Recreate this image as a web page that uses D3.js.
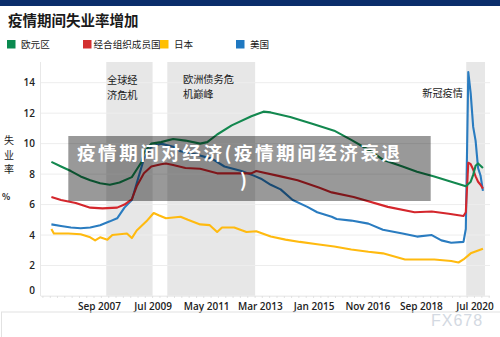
<!DOCTYPE html>
<html><head><meta charset="utf-8">
<script src="https://cdn.jsdelivr.net/npm/d3@7"></script>
<style>
html,body{margin:0;padding:0;background:#fff;}
svg{display:block;}
</style></head>
<body>
<svg id="c" width="500" height="337"></svg>
<script>
const title = "疫情期间失业率增加";
const seriesNames = ["欧元区","经合组织成员国","日本","美国"];
const seriesColors = ["#13884f","#d4262c","#ffba0f","#2a7cc0"];
const legendColors = ["#0a8a4f","#d32f2f","#ffbf00","#1f78c1"];
const yTicks = [0,2,4,6,8,10,12,14];
const xTickDates = ["2007-09","2009-07","2011-05","2013-03","2015-01","2016-11","2018-09","2020-07"];
const bands = [["2007-12-01","2009-07-01"],["2010-01-01","2013-01-01"],["2020-03-20","2020-11-10"]];
const bandLabels = [["全球经","济危机"],["欧洲债务危","机巅峰"],["新冠疫情"]];
const overlayLines = ["疫情期间对经济(疫情期间经济衰退", ")"];

const euro = [["2006-01",8.8],["2006-05",8.5],["2006-09",8.2],["2007-01",7.85],["2007-05",7.6],["2007-09",7.4],["2008-01",7.3],["2008-05",7.45],["2008-10",7.8],["2008-12",8.3],["2009-02",8.8],["2009-03",9.4],["2009-06",10.0],["2009-10",10.1],["2010-03",10.3],["2010-08",10.2],["2011-02",10.0],["2011-05",10.1],["2011-09",10.6],["2012-03",11.2],["2012-11",11.8],["2013-04",12.1],["2013-07",12.05],["2014-03",11.75],["2014-07",11.55],["2014-12",11.3],["2015-09",10.85],["2016-04",10.25],["2016-11",9.6],["2017-05",8.95],["2018-01",8.5],["2018-07",8.15],["2019-02",7.85],["2019-09",7.5],["2020-02",7.25],["2020-03",7.2],["2020-04",7.35],["2020-05",7.5],["2020-06",7.95],["2020-07",8.55],["2020-08",8.7],["2020-09",8.55],["2020-10",8.4]];
const oecd = [["2006-01",6.5],["2006-05",6.3],["2006-11",6.1],["2007-05",5.8],["2007-10",5.75],["2008-04",5.8],["2008-07",6.0],["2008-10",6.35],["2008-12",7.2],["2009-03",8.05],["2009-06",8.5],["2009-10",8.65],["2009-12",8.7],["2010-03",8.6],["2010-08",8.4],["2011-02",8.35],["2011-09",8.05],["2012-04",8.05],["2012-11",8.05],["2013-01",8.2],["2013-11",7.85],["2014-06",7.6],["2015-03",7.1],["2015-08",6.8],["2016-05",6.5],["2017-07",5.85],["2018-06",5.5],["2019-01",5.55],["2019-08",5.4],["2020-02",5.25],["2020-03",5.5],["2020-04",8.75],["2020-05",8.65],["2020-06",8.3],["2020-07",7.85],["2020-08",7.5],["2020-09",7.3],["2020-10",7.05]];
const japan = [["2006-01",4.4],["2006-02",4.1],["2006-08",4.1],["2007-01",4.05],["2007-05",3.85],["2007-07",3.65],["2007-09",3.85],["2007-12",3.7],["2008-02",4.0],["2008-08",4.1],["2008-10",3.8],["2008-12",4.3],["2009-04",4.9],["2009-07",5.45],["2009-09",5.3],["2009-12",5.1],["2010-06",5.2],["2010-09",5.0],["2011-02",4.7],["2011-06",4.65],["2011-09",4.2],["2011-11",4.5],["2012-04",4.5],["2012-09",4.2],["2013-01",4.25],["2013-07",3.9],["2014-01",3.7],["2014-07",3.55],["2015-02",3.4],["2015-09",3.25],["2016-04",3.05],["2016-11",2.9],["2017-05",2.8],["2018-02",2.4],["2018-07",2.4],["2019-02",2.4],["2019-09",2.3],["2019-12",2.2],["2020-02",2.4],["2020-05",2.8],["2020-10",3.1]];
const usa = [["2006-01",4.7],["2006-05",4.6],["2006-09",4.5],["2007-01",4.45],["2007-05",4.5],["2007-09",4.65],["2008-01",4.9],["2008-04",5.1],["2008-07",5.8],["2008-10",6.3],["2008-12",7.4],["2009-03",9.0],["2009-06",9.8],["2009-10",10.0],["2010-03",9.8],["2010-06",9.5],["2010-12",9.3],["2011-07",9.0],["2011-12",8.5],["2012-07",8.2],["2012-12",7.9],["2013-03",7.7],["2013-07",7.3],["2013-11",7.0],["2014-04",6.3],["2014-10",5.85],["2015-02",5.5],["2015-08",5.2],["2015-10",5.05],["2016-04",4.95],["2016-11",4.75],["2017-05",4.35],["2018-01",4.1],["2018-07",3.9],["2019-01",4.0],["2019-05",3.65],["2019-09",3.5],["2020-02",3.55],["2020-03",4.4],["2020-04",14.7],["2020-05",13.3],["2020-06",11.1],["2020-07",10.2],["2020-08",8.4],["2020-09",7.9],["2020-10",6.9]];

const allSeries = [euro, oecd, japan, usa];
const drawOrder = [2, 3, 1, 0];

const svg = d3.select("#c");
const parseM = d3.timeParse("%Y-%m");
const parseD = d3.timeParse("%Y-%m-%d");
const mid = s => { const d = parseM(s); return new Date(d.getFullYear(), d.getMonth(), 15); };

const x = d3.scaleTime().domain([parseD("2005-09-01"), parseD("2021-01-01")]).range([40.5, 489.2]);
const y = d3.scaleLinear().domain([0, 14]).range([296, 82.7]);
const plotTop = 62, plotBottom = 296;

svg.append("rect").attr("x",0).attr("y",0).attr("width",500).attr("height",6).attr("fill","#0b2d6b");

svg.append("text").attr("x",8).attr("y",26).attr("font-family","Noto Sans CJK SC").attr("font-weight",700)
  .attr("font-size",14.5).attr("fill","#1a1a1a").text(title);

const legX = [7, 83, 160, 236];
seriesNames.forEach((n,i)=>{
  svg.append("rect").attr("x",legX[i]).attr("y",40).attr("width",8.5).attr("height",8.5).attr("fill",legendColors[i]);
  svg.append("text").attr("x",legX[i] + (i===1?10.5:14)).attr("y",48).attr("font-family","Noto Sans CJK SC")
    .attr("font-size",9.6).attr("fill","#1a1a1a").text(n);
});

bands.forEach(b=>{
  svg.append("rect").attr("x",x(parseD(b[0]))).attr("y",plotTop)
    .attr("width",x(parseD(b[1]))-x(parseD(b[0]))).attr("height",plotBottom-plotTop).attr("fill","#e7e7e7");
});

svg.append("g").selectAll("line").data(yTicks).join("line")
  .attr("x1",40.5).attr("x2",490).attr("y1",d=>y(d)).attr("y2",d=>y(d))
  .attr("stroke","#ededed").attr("stroke-width",1);
svg.append("line").attr("x1",40.5).attr("x2",40.5).attr("y1",plotTop).attr("y2",plotBottom).attr("stroke","#e8e8e8");

svg.append("g").selectAll("text").data(yTicks).join("text")
  .attr("x",35).attr("y",d=>y(d) + (d===0?-6:0)).attr("dy","0.35em").attr("text-anchor","end")
  .attr("font-family","Open Sans").attr("font-weight",600).attr("font-size",10).attr("fill","#222")
  .text(d=>d);

const yl = ["失","业","率"];
yl.forEach((c,i)=>svg.append("text").attr("x",9).attr("y",144+i*14.5).attr("text-anchor","middle")
  .attr("font-family","Noto Sans CJK SC").attr("font-size",10).attr("fill","#1a1a1a").text(c));
svg.append("text").attr("x",6).attr("y",200).attr("text-anchor","middle").attr("font-family","Noto Sans CJK SC")
  .attr("font-size",8.5).attr("font-weight",700).attr("fill","#1a1a1a").text("%");

const blPos = [[107,84],[183,83],[463,97]];
bandLabels.forEach((ls,i)=>{
  ls.forEach((l,j)=>svg.append("text").attr("x",blPos[i][0]).attr("y",blPos[i][1]+j*14.5)
    .attr("text-anchor", i===2?"end":"start")
    .attr("font-family","Noto Sans CJK SC").attr("font-size",10.2).attr("fill","#1a1a1a").text(l));
});

const xAxis = d3.axisBottom(x).tickValues(xTickDates.map(parseM)).tickFormat(d3.timeFormat("%b %Y")).tickSize(0).tickPadding(7);
const gx = svg.append("g").attr("transform",`translate(0,${plotBottom})`).call(xAxis);
gx.select(".domain").attr("stroke","#eeeeee");
gx.selectAll("text").attr("font-family","Open Sans").attr("font-weight",600).attr("font-size",10).attr("fill","#222");
svg.append("g").selectAll("line").data(x.ticks(d3.timeMonth.every(3))).join("line")
  .attr("x1",d=>x(d)).attr("x2",d=>x(d)).attr("y1",plotBottom).attr("y2",plotBottom+2)
  .attr("stroke","#dcdcdc").attr("stroke-width",0.8);

const line = d3.line().x(d=>x(mid(d[0]))).y(d=>y(d[1])).curve(d3.curveLinear);
drawOrder.forEach(i=>{
  svg.append("path").datum(allSeries[i]).attr("d",line).attr("fill","none")
    .attr("stroke",seriesColors[i]).attr("stroke-width",2.1).attr("stroke-linejoin","round");
});

svg.append("rect").attr("x",68.3).attr("y",136).attr("width",362.4).attr("height",65).attr("fill","rgba(0,0,0,0.4)");
svg.append("text").attr("x",77).attr("y",160).attr("font-family","Noto Sans CJK SC").attr("font-weight",700)
  .attr("font-size",18.5).attr("fill","#fff").attr("textLength",323).attr("lengthAdjust","spacing").text(overlayLines[0]);
svg.append("text").attr("x",240).attr("y",187).attr("font-family","Noto Sans CJK SC").attr("font-weight",700)
  .attr("font-size",18.5).attr("fill","#fff").text(overlayLines[1]);

svg.append("rect").attr("x",1.5).attr("y",312).attr("width",510).attr("height",40).attr("fill","none").attr("stroke","#e2e2e2");

svg.append("text").attr("x",431).attr("y",326).attr("font-family","Liberation Sans").attr("font-size",16)
  .attr("letter-spacing",1).attr("fill","#d3d9e2").text("FX678");
</script>
</body></html>
